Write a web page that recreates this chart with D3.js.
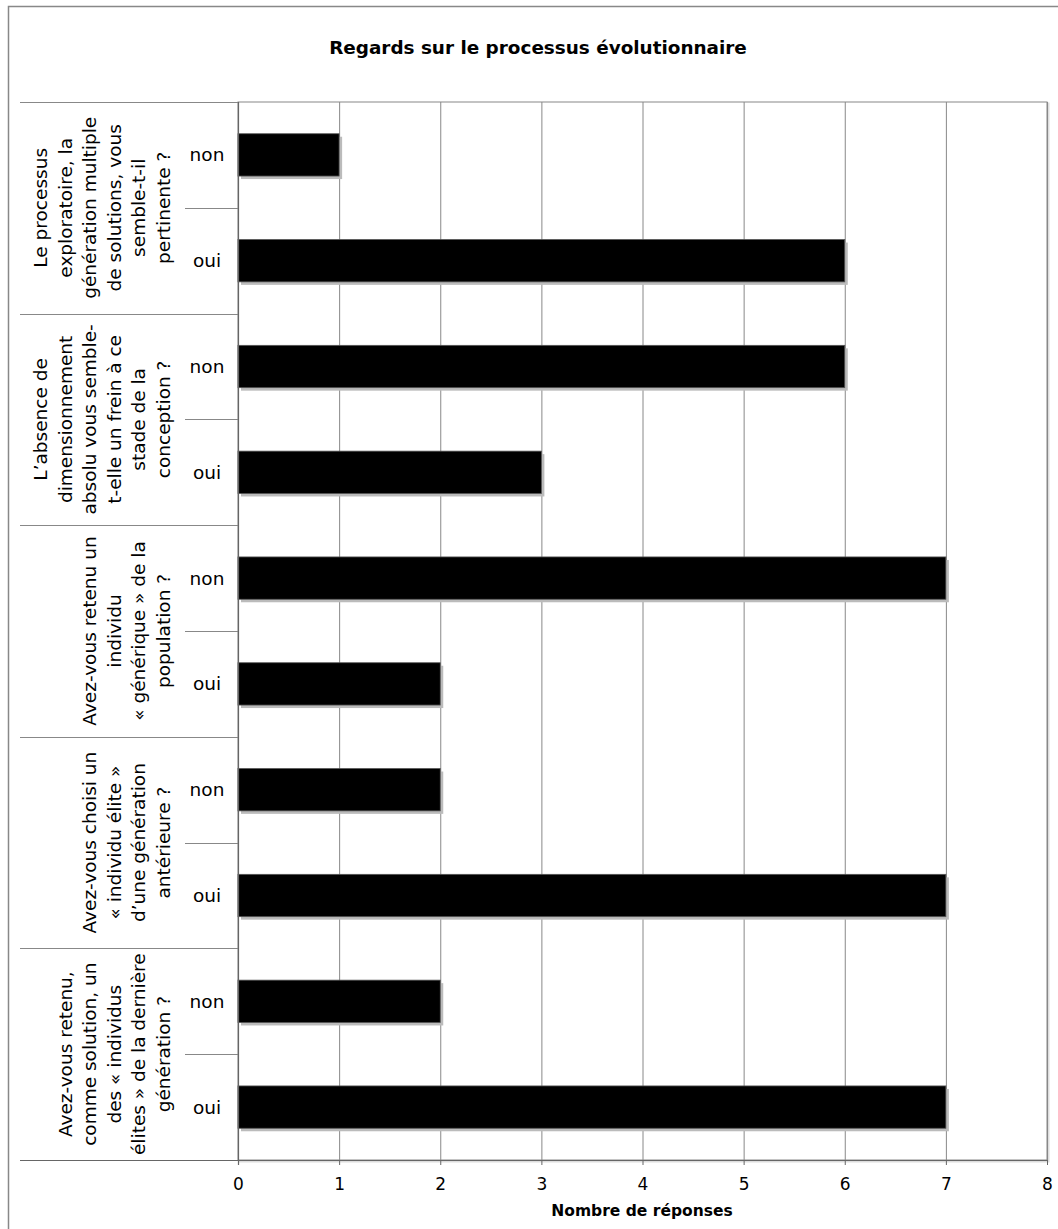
<!DOCTYPE html>
<html><head><meta charset="utf-8">
<script src="https://cdn.jsdelivr.net/npm/d3@7"></script>
<style>body{margin:0;background:#fff}svg{display:block}</style>
</head><body>
<svg id="c" width="1058" height="1229"></svg>
<script>
const title = "Regards sur le processus évolutionnaire";
const xTitle = "Nombre de réponses";
const questions = [
  ["Le processus", "exploratoire, la", "génération multiple", "de solutions, vous", "semble-t-il", "pertinente ?"],
  ["L’absence de", "dimensionnement", "absolu vous semble-", "t-elle un frein à ce", "stade de la", "conception ?"],
  ["Avez-vous retenu un", "individu", "« générique » de la", "population ?"],
  ["Avez-vous choisi un", "« individu élite »", "d’une génération", "antérieure ?"],
  ["Avez-vous retenu,", "comme solution, un", "des « individus", "élites » de la dernière", "génération ?"]
];
const answers = ["non", "oui"];
const nonValues = [1, 6, 7, 2, 2];
const ouiValues = [6, 3, 2, 7, 7];
const xTicks = [0, 1, 2, 3, 4, 5, 6, 7, 8];

const font = "'DejaVu Sans', Verdana, sans-serif";
const svg = d3.select("#c");
const L = 238, R = 1047, T = 102, B = 1160;

// outer frame
svg.append("rect").attr("x", 8.5).attr("y", 6.5).attr("width", 1100).attr("height", 1300)
  .attr("fill", "none").attr("stroke", "#888").attr("stroke-width", 1.5);

svg.append("text").attr("x", 538).attr("y", 54).attr("text-anchor", "middle")
  .attr("font-family", font).attr("font-weight", "bold").attr("font-size", 18.4).text(title);

const x = d3.scaleLinear().domain([0, 8]).range([L, R]);
const yQ = d3.scaleBand().domain(d3.range(questions.length)).range([T, B]);
const yA = d3.scaleBand().domain(answers).range([0, yQ.bandwidth()]).paddingInner(0.6).paddingOuter(0.3);

const rows = [];
questions.forEach((q, i) => {
  rows.push({q: i, a: "non", v: nonValues[i]});
  rows.push({q: i, a: "oui", v: ouiValues[i]});
});

// plot area border (with faint shadow)
svg.append("rect").attr("x", L + 1.5).attr("y", T + 1.5).attr("width", R - L).attr("height", B - T)
  .attr("fill", "none").attr("stroke", "#ddd").attr("stroke-width", 2);
svg.append("rect").attr("x", L).attr("y", T).attr("width", R - L).attr("height", B - T)
  .attr("fill", "#fff").attr("stroke", "#888").attr("stroke-width", 1);

// gridlines
svg.append("g").selectAll("line").data(xTicks.slice(1)).join("line")
  .attr("x1", d => x(d) + 0.5).attr("x2", d => x(d) + 0.5).attr("y1", T).attr("y2", B)
  .attr("stroke", "#888").attr("stroke-width", 1);

// category separators
svg.append("g").selectAll("line").data(d3.range(questions.length + 1)).join("line")
  .attr("x1", 20).attr("x2", L).attr("y1", d => Math.round(T + d * yQ.bandwidth()) + 0.5).attr("y2", d => Math.round(T + d * yQ.bandwidth()) + 0.5)
  .attr("stroke", "#888");
svg.append("g").selectAll("line").data(d3.range(questions.length)).join("line")
  .attr("x1", 185).attr("x2", L).attr("y1", d => Math.round(yQ(d) + yQ.bandwidth() / 2) + 0.5).attr("y2", d => Math.round(yQ(d) + yQ.bandwidth() / 2) + 0.5)
  .attr("stroke", "#888");

// bars shadow
svg.append("g").selectAll("rect").data(rows).join("rect")
  .attr("x", L + 3).attr("y", d => yQ(d.q) + yA(d.a) + 3)
  .attr("width", d => x(d.v) - L).attr("height", yA.bandwidth())
  .attr("fill", "#bbb");
// bars
svg.append("g").selectAll("rect").data(rows).join("rect")
  .attr("x", L).attr("y", d => yQ(d.q) + yA(d.a))
  .attr("width", d => x(d.v) - L).attr("height", yA.bandwidth())
  .attr("fill", "#000").attr("stroke", "#555").attr("stroke-width", 0.8);

// answer labels
svg.append("g").selectAll("text").data(rows).join("text")
  .attr("x", 207).attr("y", d => yQ(d.q) + yA(d.a) + yA.bandwidth() / 2)
  .attr("dy", "0.35em").attr("text-anchor", "middle")
  .attr("font-family", font).attr("font-size", 18.5).text(d => d.a);

// question labels (rotated)
const lh = 24.6;
questions.forEach((lines, i) => {
  const cy = yQ(i) + yQ.bandwidth() / 2;
  const g = svg.append("g").attr("transform", `translate(0,${cy}) rotate(-90)`);
  const n = lines.length;
  lines.forEach((t, k) => {
    const bx = 170 - (n - 1 - k) * lh;
    g.append("text").attr("x", 0).attr("y", bx).attr("text-anchor", "middle")
      .attr("font-family", font).attr("font-size", 18.5).text(t);
  });
});

// left axis line
svg.append("line").attr("x1", L + 0.5).attr("x2", L + 0.5).attr("y1", T).attr("y2", B + 5)
  .attr("stroke", "#666").attr("stroke-width", 1.2);

// bottom axis
const ax = svg.append("g").attr("transform", `translate(0,${B})`)
  .call(d3.axisBottom(x).tickValues(xTicks).tickSize(5).tickPadding(13).tickFormat(d3.format("d")));
ax.select(".domain").remove();
ax.selectAll(".tick line").attr("stroke", "#666");
ax.selectAll(".tick text").attr("font-family", font).attr("font-size", 17).attr("fill", "#000");
svg.append("line").attr("x1", 20).attr("x2", R).attr("y1", B + 0.5).attr("y2", B + 0.5)
  .attr("stroke", "#666").attr("stroke-width", 1.2);

svg.append("text").attr("x", 642).attr("y", 1216).attr("text-anchor", "middle")
  .attr("font-family", font).attr("font-weight", "bold").attr("font-size", 15.5).text(xTitle);
</script>
</body></html>
